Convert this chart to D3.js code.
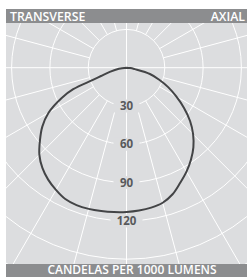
<!DOCTYPE html>
<html>
<head>
<meta charset="utf-8">
<script src="https://cdn.jsdelivr.net/npm/d3@7"></script>
<style>
	body { margin:0; background:#ffffff; }
	svg { display:block; font-family:"Open Sans", sans-serif; }
</style>
</head>
<body>
<div class="chart"></div>
<script>
// angles from nadir (deg) and candela per 1000 lm
var transAngles = [0,5,10,15,20,25,30,35,40,45,50,55,60,65,68,70,72,76,82,90];
var transCd     = [113,113.5,114,114.5,114.5,113.5,110.5,107,102.5,96.5,88.5,80.5,70.5,56,45,28,21,13.5,6,0];
var axialAngles = [0,5,10,15,20,25,30,35,40,45,50,55,60,65,70,75,80,85,90];
var axialCd     = [113,112.3,111.3,109.5,105.5,99.5,94,88,81.5,73.8,65,55,45,36,27,19,6.6,3,0];

var ringValues  = [30,60,90,120,150,180];
var labelValues = [30,60,90,120];
var spokeAngles = d3.range(0,360,15);
var titleLeft = "TRANSVERSE", titleRight = "AXIAL", footer = "CANDELAS PER 1000 LUMENS";

var width = 247, height = 277;
var plot = {x:6, y:23, w:241, h:241};
var cx = 126.5, cy = 67.7;
var bg = "#dcdddf", barColor = "#8c8d8f";

var r = d3.scaleLinear().domain([0,120]).range([0,153.2]);

var svg = d3.select(".chart").append("svg")
			.attr("width",width)
			.attr("height",height);

svg.append("clipPath").attr("id","plotClip")
	.append("rect")
	.attr("x",plot.x).attr("y",plot.y)
	.attr("width",plot.w).attr("height",plot.h);

svg.append("rect")
	.attr("x",plot.x).attr("y",plot.y)
	.attr("width",plot.w).attr("height",plot.h)
	.attr("fill",bg);

var grid = svg.append("g")
			  .attr("clip-path","url(#plotClip)")
			  .append("g")
			  .attr("transform","translate("+cx+","+cy+")");

// rings
grid.selectAll("circle.ring")
	.data(ringValues)
	.enter()
	.append("circle")
	.attr("class","ring")
	.attr("r",function(d){ return r(d); })
	.attr("fill","none")
	.attr("stroke","#ffffff")
	.attr("stroke-width",1);

// spokes, only the main axes go into the inner ring
grid.selectAll("line.spoke")
	.data(spokeAngles)
	.enter()
	.append("line")
	.attr("class","spoke")
	.each(function(d){
		var a = d*Math.PI/180, r0 = (d%90==0) ? 0 : r(30), r1 = 320;
		d3.select(this)
		  .attr("x1",r0*Math.sin(a)).attr("y1",r0*Math.cos(a))
		  .attr("x2",r1*Math.sin(a)).attr("y2",r1*Math.cos(a));
	})
	.attr("stroke","#ffffff")
	.attr("stroke-width",1);

// value labels on the nadir axis
grid.selectAll("g.lbl")
	.data(labelValues)
	.enter()
	.append("g")
	.attr("class","lbl")
	.each(function(d){
		var g = d3.select(this);
		var w = d<100 ? 26 : 32;
		g.append("rect")
		 .attr("x",-w/2).attr("y",r(d)-6.5)
		 .attr("width",w).attr("height",13)
		 .attr("fill",bg);
		g.append("text")
		 .attr("x",0).attr("y",r(d))
		 .attr("dy","0.36em")
		 .attr("text-anchor","middle")
		 .attr("font-size",11.5)
		 .attr("font-weight",700)
		 .attr("fill","#58595b")
		 .text(d);
	});

// distribution curve: transverse on the left, axial on the right
var pts = [];
for(var i=transAngles.length-1;i>=0;i--){
	pts.push([Math.PI + transAngles[i]*Math.PI/180, r(transCd[i])]);
}
for(var j=1;j<axialAngles.length;j++){
	pts.push([Math.PI - axialAngles[j]*Math.PI/180, r(axialCd[j])]);
}
var curve = d3.lineRadial()
			  .angle(function(d){ return d[0]; })
			  .radius(function(d){ return d[1]; })
			  .curve(d3.curveCatmullRom);

grid.append("path")
	.datum(pts)
	.attr("d",curve)
	.attr("fill","none")
	.attr("stroke","#434446")
	.attr("stroke-width",2);

// header and footer bars
svg.append("rect")
	.attr("x",plot.x).attr("y",9)
	.attr("width",plot.w).attr("height",plot.y-9)
	.attr("fill",barColor);
svg.append("text")
	.attr("x",10).attr("y",20.5)
	.attr("font-size",12.3).attr("font-weight",600)
	.attr("fill","#ffffff")
	.text(titleLeft);
svg.append("text")
	.attr("x",245).attr("y",20.5)
	.attr("text-anchor","end")
	.attr("font-size",12.3).attr("font-weight",600)
	.attr("fill","#ffffff")
	.text(titleRight);

svg.append("rect")
	.attr("x",plot.x).attr("y",plot.y+plot.h)
	.attr("width",plot.w).attr("height",height-plot.y-plot.h)
	.attr("fill",barColor);
svg.append("text")
	.attr("x",132).attr("y",273.6)
	.attr("text-anchor","middle")
	.attr("font-size",12).attr("font-weight",600)
	.attr("fill","#ffffff")
	.text(footer);
</script>
</body>
</html>
